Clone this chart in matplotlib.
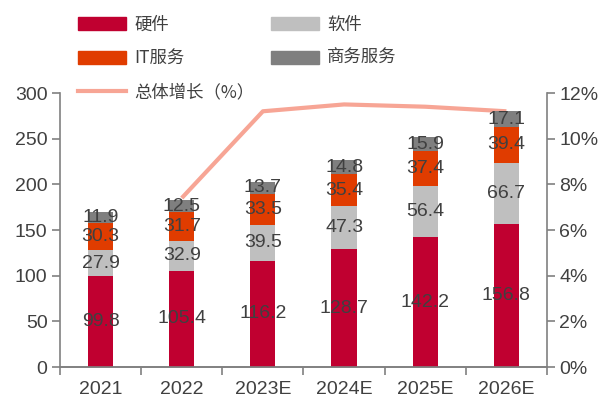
import matplotlib.pyplot as plt
import numpy as np
from matplotlib.patches import Patch
from matplotlib.lines import Line2D

plt.rcParams['font.family'] = ['Liberation Sans', 'Noto Sans CJK SC', 'DejaVu Sans']

# data
years = ['2021', '2022', '2023E', '2024E', '2025E', '2026E']
hardware = [99.8, 105.4, 116.2, 128.7, 142.2, 156.8]
software = [27.9, 32.9, 39.5, 47.3, 56.4, 66.7]
it_service = [30.3, 31.7, 33.5, 35.4, 37.4, 39.4]
biz_service = [11.9, 12.5, 13.7, 14.8, 15.9, 17.1]
growth_years = ['2022', '2023E', '2024E', '2025E', '2026E']
growth = [7.4, 11.2, 11.5, 11.4, 11.2]

series = [hardware, software, it_service, biz_service]
names = ['硬件', '软件', 'IT服务', '商务服务']
colors = ['#C00030', '#BFBFBF', '#E03C00', '#7F7F7F']

fig = plt.figure(figsize=(6.02, 4.03), dpi=100)
ax = fig.add_axes([0.0997, 0.0893, 0.8089, 0.6799])
ax2 = ax.twinx()
ax.set_zorder(1)
ax.patch.set_visible(False)

x = np.arange(len(years))
bottom = np.zeros(len(years))
for vals, c in zip(series, colors):
    ax.bar(x, vals, 0.31, bottom=bottom, color=c, zorder=2)
    for xi, b, v in zip(x, bottom, vals):
        ax.text(xi, b + v / 2, f'{v:.1f}', ha='center', va='center',
                fontsize=14, color='#404040', zorder=3)
    bottom += np.array(vals)

gx = [years.index(y) for y in growth_years]
ax2.plot(gx, growth, color='#F7A595', lw=3, solid_capstyle='butt')

ax.set_xlim(-0.5, len(years) - 0.5)
ax.set_ylim(0, 300)
ax.set_yticks(np.arange(0, 301, 50))
ax2.set_ylim(0, 12)
ax2.set_yticks(np.arange(0, 13, 2))
ax2.set_yticklabels([f'{v}%' for v in range(0, 13, 2)])

ax.set_xticks(x)
ax.set_xticklabels(years)
ax.set_xticks(np.arange(-0.5, len(years), 1), minor=True)
ax.tick_params(axis='x', which='major', length=0, pad=10)
ax.tick_params(axis='x', which='minor', length=6, color='#808080', width=1.2)

gray = '#808080'
for a in (ax, ax2):
    a.spines['top'].set_visible(False)
    for s in ['left', 'right', 'bottom']:
        a.spines[s].set_color(gray)
        a.spines[s].set_linewidth(1.2)
    a.tick_params(axis='y', length=6, color=gray, width=1.2, labelsize=14, labelcolor='#404040', pad=3)
ax.tick_params(axis='x', labelsize=14, labelcolor='#404040')
ax.spines['right'].set_visible(False)
ax2.spines['left'].set_visible(False)

handles = [Patch(color=colors[0]), Patch(color=colors[2]),
           Line2D([], [], color='#F7A595', lw=3),
           Patch(color=colors[1]), Patch(color=colors[3])]
labels = ['硬件', 'IT服务', '总体增长（%）', '软件', '商务服务']
fig.legend(handles, labels, ncol=2, loc='upper left', bbox_to_anchor=(0.103, 1.0),
           frameon=False, handlelength=2.8, handleheight=0.8, handletextpad=0.45,
           columnspacing=0.95, labelspacing=0.9, labelcolor='#404040',
           prop={'family': ['Noto Sans CJK SC'], 'size': 12.5})

fig.savefig('out.png', dpi=100)
